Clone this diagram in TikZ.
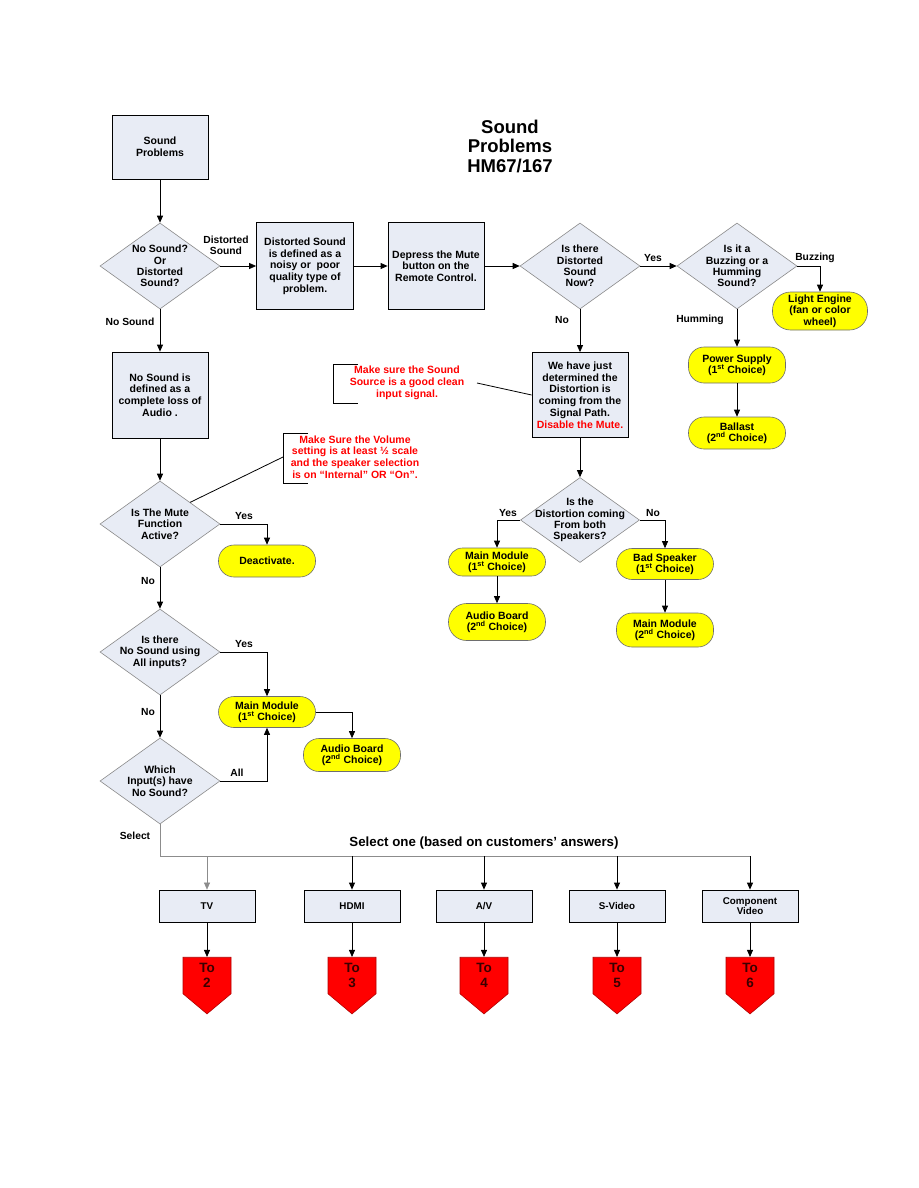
\documentclass[tikz,border=0pt]{standalone}
\usepackage{fontspec}
\setmainfont{Liberation Sans}
\usetikzlibrary{arrows.meta,shapes.geometric,shapes.symbols}
\definecolor{boxfill}{HTML}{E8ECF5}
\definecolor{diagray}{HTML}{8A8A8A}
\definecolor{pillfill}{HTML}{FFFF00}
\definecolor{pillline}{HTML}{6E6E6E}
\definecolor{notered}{HTML}{FF0000}
\definecolor{sigfill}{HTML}{FF0000}
\definecolor{sigline}{HTML}{B00000}
\definecolor{busgray}{HTML}{8C8C8C}
\definecolor{sigtext}{HTML}{3A0000}
\tikzset{
  box/.style={draw=black, fill=boxfill, line width=0.8pt, align=center, inner sep=1pt,
    font=\fontsize{10.5}{11.7}\selectfont\bfseries},
  dia/.style={diamond, draw=diagray, fill=boxfill, line width=0.6pt, minimum width=120, minimum height=86, inner sep=0pt},
  dtext/.style={align=center, inner sep=0pt, font=\fontsize{10.5}{11.4}\selectfont\bfseries},
  pill/.style={draw=pillline, fill=pillfill, line width=0.6pt, rounded corners=15.5, align=center, inner sep=1pt,
    font=\fontsize{10.5}{11.4}\selectfont\bfseries},
  lbl/.style={inner sep=0pt, align=center, font=\fontsize{10.3}{11}\selectfont\bfseries},
  note/.style={inner sep=0pt, align=center, text=notered, font=\fontsize{10.5}{11.7}\selectfont\bfseries},
  arr/.style={-{Triangle[length=7pt,width=6pt]}, line width=0.8pt, draw=black},
  ln/.style={line width=0.8pt, draw=black},
  inbox/.style={draw=black, fill=boxfill, line width=0.8pt, align=center, inner sep=1pt,
    minimum width=96, minimum height=32, font=\fontsize{9.8}{10.5}\selectfont\bfseries},
  sig/.style={signal, signal to=south, signal from=nowhere, signal pointer angle=100,
    draw=sigline, fill=sigfill, line width=0.6pt, minimum width=48, minimum height=43, inner sep=0pt,
    align=center, text=sigtext, font=\fontsize{13.5}{15}\selectfont\bfseries}
}
\begin{document}
\begin{tikzpicture}[x=1pt,y=-1pt]
\useasboundingbox[fill=white] (0,0) rectangle (918,1188);

% title
\node[align=center, inner sep=0pt, font=\fontsize{18.5}{19.5}\selectfont\bfseries] (title) at (510,146) {Sound\\Problems\\HM67/167};

% left column
\node[box, minimum width=96, minimum height=64] (sp) at (160,147) {Sound\\Problems};
\node[dia] (d1) at (160,266) {};
\node[dtext] (t1) at (160,266) {No Sound?\\Or\\Distorted\\Sound?};
\node[box, minimum width=97, minimum height=87] (b2) at (305,266) {Distorted Sound\\is defined as a\\noisy or \ poor\\quality type of\\problem.};
\node[box, minimum width=96, minimum height=87] (b3) at (436,266) {Depress the Mute\\button on the\\Remote Control.};
\node[dia] (d3) at (580,266) {};
\node[dtext] (t3) at (580,266) {Is there\\Distorted\\Sound\\Now?};
\node[dia] (d4) at (737,266) {};
\node[dtext] (t4) at (737,266) {Is it a\\Buzzing or a\\Humming\\Sound?};
\node[pill, minimum width=95, minimum height=38, rounded corners=18] (le) at (820,311) {Light Engine\\(fan or color\\wheel)};
\node[pill, minimum width=97, minimum height=36] (ps) at (737,365) {Power Supply\\(1\textsuperscript{st} Choice)};
\node[pill, minimum width=97, minimum height=32] (ba) at (737,433) {Ballast\\(2\textsuperscript{nd} Choice)};
\node[box, minimum width=96, minimum height=85] (b4) at (580,395) {We have just\\determined the\\Distortion is\\coming from the\\Signal Path.\\\textcolor{notered}{Disable the Mute.}};
\node[box, minimum width=96, minimum height=86] (ns) at (160,395) {No Sound is\\defined as a\\complete loss of\\Audio .};

% notes
\node[note] (n1) at (407,383) {Make sure the Sound\\Source is a good clean\\input signal.};
\draw[ln] (358,364) -- (333,364) -- (333,403) -- (358,403);
\coordinate (n1r) at (477,383);
\draw[ln] (n1r) -- (b4.west);
\node[note] (n2) at (355,457) {Make Sure the Volume\\setting is at least ½ scale\\and the speaker selection\\is on “Internal” OR “On”.};
\draw[ln] (308,433) -- (283,433) -- (283,483) -- (308,483);
\coordinate (n2l) at (283,457);

\node[dia] (d5) at (160,524) {};
\node[dtext] (t5) at (160,524) {Is The Mute\\Function\\Active?};
\draw[ln] (n2l) -- (d5.north east);
\node[pill, minimum width=97, minimum height=32] (de) at (267,561) {Deactivate.};
\node[dia] (d6) at (160,652) {};
\node[dtext] (t6) at (160,652) {Is there\\No Sound using\\All inputs?};
\node[pill, minimum width=97, minimum height=31] (mm) at (267,712) {Main Module\\(1\textsuperscript{st} Choice)};
\node[pill, minimum width=97, minimum height=33] (ab) at (352,755) {Audio Board\\(2\textsuperscript{nd} Choice)};
\node[dia] (d7) at (160,781) {};
\node[dtext] (t7) at (160,781) {Which\\Input(s) have\\No Sound?};

% distortion branch
\node[dia, minimum width=119, minimum height=85] (d2) at (580,520) {};
\node[dtext] (t2) at (580,520) {Is the\\Distortion coming\\From both\\Speakers?};
\node[pill, minimum width=97, minimum height=28, rounded corners=14] (mm2) at (497,562) {Main Module\\(1\textsuperscript{st} Choice)};
\node[pill, minimum width=97, minimum height=37, rounded corners=18] (ab2) at (497,622) {Audio Board\\(2\textsuperscript{nd} Choice)};
\node[pill, minimum width=97, minimum height=31] (bs) at (665,564) {Bad Speaker\\(1\textsuperscript{st} Choice)};
\node[pill, minimum width=97, minimum height=34] (mm3) at (665,630) {Main Module\\(2\textsuperscript{nd} Choice)};

% labels
\node[lbl] (l1) at (226,245) {Distorted\\Sound};
\node[lbl] (l2) at (130,322) {No Sound};
\node[lbl] (l3) at (653,258) {Yes};
\node[lbl] (l4) at (815,258) {Buzzing};
\node[lbl] (l5) at (700,320) {Humming};
\node[lbl] (l6) at (562,320) {No};
\node[lbl] (l7) at (244,516) {Yes};
\node[lbl] (l8) at (148,581) {No};
\node[lbl] (l9) at (244,644) {Yes};
\node[lbl] (l10) at (148,712) {No};
\node[lbl] (l11) at (237,773) {All};
\node[lbl] (l12) at (135,836) {Select};
\node[lbl] (l13) at (508,513) {Yes};
\node[lbl] (l14) at (653,513) {No};

% connectors
\draw[arr] (sp) -- (d1);
\draw[arr] (d1.east) -- (b2.west);
\draw[arr] (b2.east) -- (b3.west);
\draw[arr] (b3.east) -- (d3.west);
\draw[arr] (d3.east) -- (d4.west);
\draw[arr] (d4.east) -| (le.north);
\draw[arr] (d4.south) -- (ps.north);
\draw[arr] (ps.south) -- (ba.north);
\draw[arr] (d3.south) -- (b4.north);
\draw[arr] (d1.south) -- (ns.north);
\draw[arr] (ns.south) -- (d5.north);
\draw[arr] (d5.east) -| (de.north);
\draw[arr] (d5.south) -- (d6.north);
\draw[arr] (d6.east) -| (mm.north);
\draw[arr] (mm.east) -| (ab.north);
\draw[arr] (d6.south) -- (d7.north);
\draw[arr] (d7.east) -| (mm.south);
\draw[arr] (b4.south) -- (d2.north);
\draw[arr] (d2.west) -| (mm2.north);
\draw[arr] (mm2.south) -- (ab2.north);
\draw[arr] (d2.east) -| (bs.north);
\draw[arr] (bs.south) -- (mm3.north);

% bottom selection
\node[inner sep=0pt, font=\fontsize{13.3}{15}\selectfont\bfseries] (sel) at (484,843) {Select one (based on customers’ answers)};
\node[inbox] (tv) at (207,906) {TV};
\node[inbox] (hd) at (352,906) {HDMI};
\node[inbox] (av) at (484,906) {A/V};
\node[inbox] (sv) at (617,906) {S-Video};
\node[inbox] (cv) at (750,906) {Component\\Video};
\coordinate (bus0) at (160,856);
\coordinate (bus1) at (750,856);
\draw[line width=0.6pt, busgray] (d7.south) -- (bus0) -- (bus1);
\draw[arr, draw=busgray, line width=0.6pt] (bus0 -| tv) -- (tv.north);
\draw[arr] (bus0 -| hd) -- (hd.north);
\draw[arr] (bus0 -| av) -- (av.north);
\draw[arr] (bus0 -| sv) -- (sv.north);
\draw[arr] (bus1) -- (cv.north);
\node[sig] (p2) at (207,975.5) {To\\2};
\node[sig] (p3) at (352,975.5) {To\\3};
\node[sig] (p4) at (484,975.5) {To\\4};
\node[sig] (p5) at (617,975.5) {To\\5};
\node[sig] (p6) at (750,975.5) {To\\6};
\draw[arr] (tv.south) -- (p2.north);
\draw[arr] (hd.south) -- (p3.north);
\draw[arr] (av.south) -- (p4.north);
\draw[arr] (sv.south) -- (p5.north);
\draw[arr] (cv.south) -- (p6.north);
\end{tikzpicture}
\end{document}
